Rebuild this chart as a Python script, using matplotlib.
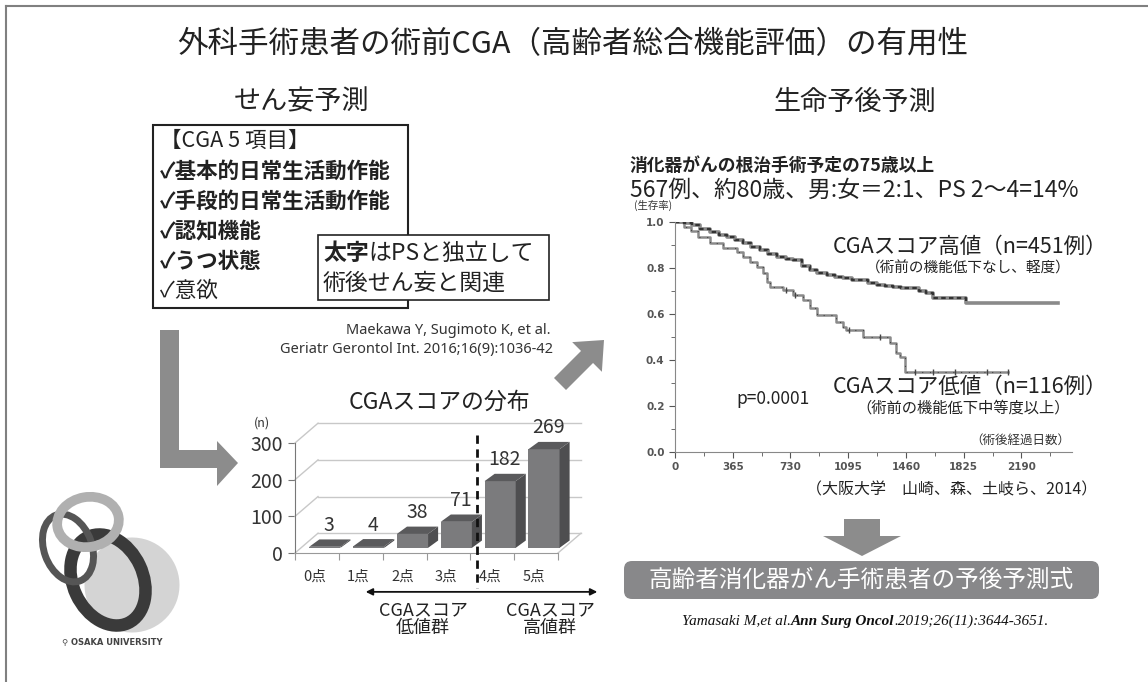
import matplotlib.pyplot as plt
import matplotlib.patches as mpatches
import numpy as np

plt.rcParams['font.family'] = ['Noto Sans CJK JP', 'DejaVu Sans']

W, H = 1148, 682

# bar chart data (CGA score distribution)
score_labels = ['0点', '1点', '2点', '3点', '4点', '5点']
score_counts = [3, 4, 38, 71, 182, 269]

# Kaplan-Meier curves (days, survival)
high_days = [0, 60, 105, 160, 221, 280, 326, 380, 431, 480, 537, 590, 642, 700, 747,
             800, 853, 900, 958, 1010, 1063, 1120, 1168, 1220, 1274, 1330, 1379, 1430,
             1484, 1540, 1590, 1631, 1842, 2420]
high_surv = [1.0, 0.995, 0.985, 0.97, 0.958, 0.945, 0.936, 0.92, 0.907, 0.892, 0.878,
             0.86, 0.849, 0.84, 0.835, 0.81, 0.791, 0.78, 0.77, 0.762, 0.755, 0.75, 0.748,
             0.735, 0.726, 0.722, 0.719, 0.715, 0.712, 0.70, 0.69, 0.668, 0.647, 0.647]
low_days = [0, 60, 100, 147, 221, 305, 389, 431, 474, 516, 558, 579, 600, 684, 747, 810,
            853, 895, 1021, 1063, 1084, 1189, 1358, 1400, 1421, 1453, 2106]
low_surv = [1.0, 0.98, 0.96, 0.936, 0.907, 0.886, 0.871, 0.849, 0.827, 0.806, 0.777,
            0.741, 0.719, 0.704, 0.683, 0.661, 0.625, 0.596, 0.567, 0.545, 0.53, 0.50,
            0.472, 0.43, 0.415, 0.35, 0.35]
low_censor = [700, 760, 1100, 1295, 1516, 1630, 1769, 1971, 2103]
day_ticks = [0, 365, 730, 1095, 1460, 1825, 2190]

fig = plt.figure(figsize=(W / 100, H / 100), dpi=100, facecolor='white')

# overlay in pixel coordinates for the slide decorations
ov = fig.add_axes([0, 0, 1, 1])
ov.set_xlim(0, W)
ov.set_ylim(H, 0)
ov.axis('off')

def ax_rect(x0, y0, x1, y1):
    return [x0 / W, 1 - y1 / H, (x1 - x0) / W, (y1 - y0) / H]

# slide frame
ov.plot([6, W], [6, 6], color='#808080', lw=1.5)
ov.plot([6, 6], [6, H], color='#808080', lw=1.5)

ov.text(573, 45, '外科手術患者の術前CGA（高齢者総合機能評価）の有用性', fontsize=22,
        ha='center', va='center', color='#222')
ov.text(302, 102, 'せん妄予測', fontsize=19.5, ha='center', va='center', color='#222')
ov.text(855, 102, '生命予後予測', fontsize=19.5, ha='center', va='center', color='#222')

# CGA item box
ov.add_patch(mpatches.Rectangle((153, 125), 255, 183, fill=False, ec='#222', lw=1.5))
items = [('【CGA 5 項目】', 'normal'), ('✓基本的日常生活動作能', 'bold'),
         ('✓手段的日常生活動作能', 'bold'), ('✓認知機能', 'bold'),
         ('✓うつ状態', 'bold'), ('✓意欲', 'normal')]
for k, (s, wt) in enumerate(items):
    ov.text(160, 141 + k * 30, s, fontsize=15.5, weight=wt, va='center', color='#222')

ov.add_patch(mpatches.Rectangle((318, 235), 231, 65, fc='white', ec='#222', lw=1.2, zorder=3))
t1 = ov.text(323, 253, '太字', fontsize=16.5, weight='bold', va='center', color='#222', zorder=4)
ov.annotate('はPSと独立して', xy=(1, 0.5), xycoords=t1, fontsize=16.5, va='center',
            ha='left', color='#222', zorder=4)
ov.text(323, 283, '術後せん妄と関連', fontsize=16.5, va='center', color='#222', zorder=4)

ov.text(550, 330, 'Maekawa Y, Sugimoto K, et al.', fontsize=10.5, ha='right',
        va='center', color='#333', family=['Noto Sans', 'DejaVu Sans'])
ov.text(553, 350, 'Geriatr Gerontol Int. 2016;16(9):1036-42', fontsize=10.5, ha='right',
        va='center', color='#333', family=['Noto Sans', 'DejaVu Sans'])

arrow_gray = '#8c8c8c'
ov.add_patch(mpatches.Polygon([(160, 330), (179, 330), (179, 450), (217, 450), (217, 441),
                               (238, 463), (217, 486), (217, 468), (160, 468)],
                              closed=True, fc=arrow_gray, ec='none'))
ov.add_patch(mpatches.FancyArrow(560, 384, 44, -44, width=17, head_width=42, head_length=24,
                                 length_includes_head=True, fc=arrow_gray, ec='none'))
ov.add_patch(mpatches.FancyArrow(862, 519, 0, 37, width=36, head_width=78, head_length=20,
                                 length_includes_head=True, fc=arrow_gray, ec='none'))

# result box
ov.add_patch(mpatches.FancyBboxPatch((624, 561), 475, 38, boxstyle='round,pad=0,rounding_size=8',
                                     fc='#88888a', ec='none'))
ov.text(861, 580, '高齢者消化器がん手術患者の予後予測式', fontsize=17, color='white',
        ha='center', va='center')

serif = ['Liberation Serif', 'DejaVu Serif']
c1 = ov.text(682, 621, 'Yamasaki M,et al.', fontsize=11, style='italic', family=serif,
             va='center', color='#111')
c2 = ov.annotate('Ann Surg Oncol', xy=(1, 0.5), xycoords=c1, fontsize=11, style='italic',
                 weight='bold', family=serif, va='center', color='#111')
ov.annotate('.2019;26(11):3644-3651.', xy=(1, 0.5), xycoords=c2, fontsize=11,
            style='italic', family=serif, va='center', color='#111')

# Osaka University logo (rough)
ov.add_patch(mpatches.Ellipse((132, 585), 95, 95, angle=20, fc='#d4d4d4', ec='none'))
ov.add_patch(mpatches.Ellipse((108, 580), 70, 95, angle=-25, fc='none', ec='#3a3a3a', lw=9))
ov.add_patch(mpatches.Ellipse((68, 548), 48, 70, angle=-20, fc='none', ec='#555', lw=5))
ov.add_patch(mpatches.Ellipse((88, 522), 62, 50, angle=-10, fc='none', ec='#b0b0b0', lw=7))
ov.text(112, 643, '⚲ OSAKA UNIVERSITY', fontsize=6, weight='bold', ha='center',
        va='center', color='#444', family=['DejaVu Sans'])

# ---------------- 3D-looking bar chart ----------------
bx = fig.add_axes(ax_rect(295, 443, 558, 553))
bx.set_xlim(-0.5, 5.5)
bx.set_ylim(0, 300)
bx.patch.set_alpha(0)
for s in ['top', 'right']:
    bx.spines[s].set_visible(False)
bx.spines['left'].set_color('#777')
bx.spines['bottom'].set_color('#999')
bx.set_yticks([0, 100, 200, 300])
bx.tick_params(axis='y', labelsize=14, colors='#333', length=5, color='#777')
bx.set_xticks(np.arange(-0.5, 6, 1))
bx.set_xticklabels([])
bx.tick_params(axis='x', length=5, color='#999')

DX, DY = 0.525, 54
grid_c = '#c8c8c8'
for v in [0, 100, 200, 300]:
    bx.plot([-0.5, -0.5 + DX], [v, v + DY], color=grid_c, lw=1, clip_on=False)
    bx.plot([-0.5 + DX, 5.5 + DX], [v + DY, v + DY], color=grid_c, lw=1, clip_on=False)
bx.plot([5.5, 5.5 + DX], [0, DY], color=grid_c, lw=1, clip_on=False)

y0 = 14
bw, bdx, bdy = 0.71, 0.23, 20
for i, v in enumerate(score_counts):
    xc = i + 0.18
    xa, xb = xc - bw / 2, xc + bw / 2
    front = mpatches.Polygon([(xa, y0), (xb, y0), (xb, y0 + v), (xa, y0 + v)],
                             fc='#7b7b7d', ec='none', clip_on=False, zorder=3)
    side = mpatches.Polygon([(xb, y0), (xb + bdx, y0 + bdy), (xb + bdx, y0 + v + bdy),
                             (xb, y0 + v)], fc='#4e4e50', ec='none', clip_on=False, zorder=3)
    top = mpatches.Polygon([(xa, y0 + v), (xb, y0 + v), (xb + bdx, y0 + v + bdy),
                            (xa + bdx, y0 + v + bdy)], fc='#5a5a5c', ec='none',
                           clip_on=False, zorder=3)
    for p in (front, side, top):
        bx.add_patch(p)
    bx.text(i + 0.28, v + 72, str(v), fontsize=14, ha='center', va='center',
            color='#333', zorder=5)
    bx.text(i - 0.05, -65, score_labels[i], fontsize=10.5, ha='center', va='center',
            color='#333')

bx.text(-1.25, 355, '(n)', fontsize=9, ha='center', va='center', color='#333')
bx.text(2.8, 410, 'CGAスコアの分布', fontsize=16.5, ha='center', va='center', color='#222')
bx.plot([3.65, 3.65], [322, -95], color='#111', lw=2, ls=(0, (3, 2)), clip_on=False, zorder=6)
bx.annotate('', xy=(1.05, -106), xytext=(6.46, -106),
            arrowprops=dict(arrowstyle='<|-|>', color='#111', lw=1.3, mutation_scale=10),
            annotation_clip=False)
for xg, name in [(2.42, '低値群'), (5.32, '高値群')]:
    bx.text(xg, -155, 'CGAスコア', fontsize=13, ha='center', va='center', color='#222')
    bx.text(xg, -205, name, fontsize=13, ha='center', va='center', color='#222')

# ---------------- Kaplan-Meier plot ----------------
kx = fig.add_axes(ax_rect(675, 222, 1072, 452))
kx.set_xlim(0, 2510)
kx.set_ylim(0, 1.0)
kx.patch.set_alpha(0)
for s in ['top', 'right']:
    kx.spines[s].set_visible(False)
for s in ['left', 'bottom']:
    kx.spines[s].set_color('#888')
kx.set_yticks([0.0, 0.2, 0.4, 0.6, 0.8, 1.0])
kx.set_yticks(np.arange(0.1, 1.0, 0.2), minor=True)
kx.set_yticklabels(['0.0', '0.2', '0.4', '0.6', '0.8', '1.0'])
kx.set_xticks(day_ticks)
kx.set_xticks(np.arange(182.5, 2510, 365), minor=True)
kx.tick_params(which='both', colors='#555', length=4, labelsize=7.5)
kx.tick_params(which='minor', length=3)
for lab in kx.get_xticklabels() + kx.get_yticklabels():
    lab.set_family(['DejaVu Sans'])
    lab.set_weight('bold')

kx.step(low_days, low_surv, where='post', color='#8a8a8a', lw=1.8)
kx.step(low_days, low_surv, where='post', color='#444', lw=0.8, ls=(0, (1, 6)))
cens_y = [low_surv[np.searchsorted(low_days, d, side='right') - 1] for d in low_censor]
kx.plot(low_censor, cens_y, ls='none', marker='|', ms=4, color='#444')
kx.step(high_days, high_surv, where='post', color='#8a8a8a', lw=2.6)
kx.step(high_days[:-1], high_surv[:-1], where='post', color='#333', lw=1.6, ls=(0, (2, 1.5)))

kx.text(-0.055, 1.07, '(生存率)', transform=kx.transAxes, fontsize=7.5, ha='center',
        va='center', color='#333')
ov.text(630, 166, '消化器がんの根治手術予定の75歳以上', fontsize=12.8, weight='bold',
        va='center', color='#222')
ov.text(630, 190, '567例、約80歳、男:女＝2:1、PS 2〜4=14%', fontsize=16.5, va='center',
        color='#222')
ov.text(1107, 247, 'CGAスコア高値（n=451例）', fontsize=15.5, ha='right', va='center', color='#222')
ov.text(968, 268, '（術前の機能低下なし、軽度）', fontsize=10.5, ha='center', va='center',
        color='#222')
ov.text(1107, 387, 'CGAスコア低値（n=116例）', fontsize=15.5, ha='right', va='center', color='#222')
ov.text(963, 408, '（術前の機能低下中等度以上）', fontsize=11, ha='center', va='center',
        color='#222')
ov.text(773, 399, 'p=0.0001', fontsize=12.5, ha='center', va='center', color='#222')
ov.text(1070, 440, '（術後経過日数）', fontsize=9, ha='right', va='center', color='#333')
ov.text(1097, 490, '（大阪大学\u3000山崎、森、土岐ら、2014）', fontsize=11.5, ha='right',
        va='center', color='#222')

fig.savefig('out.png', dpi=100, facecolor='white')
